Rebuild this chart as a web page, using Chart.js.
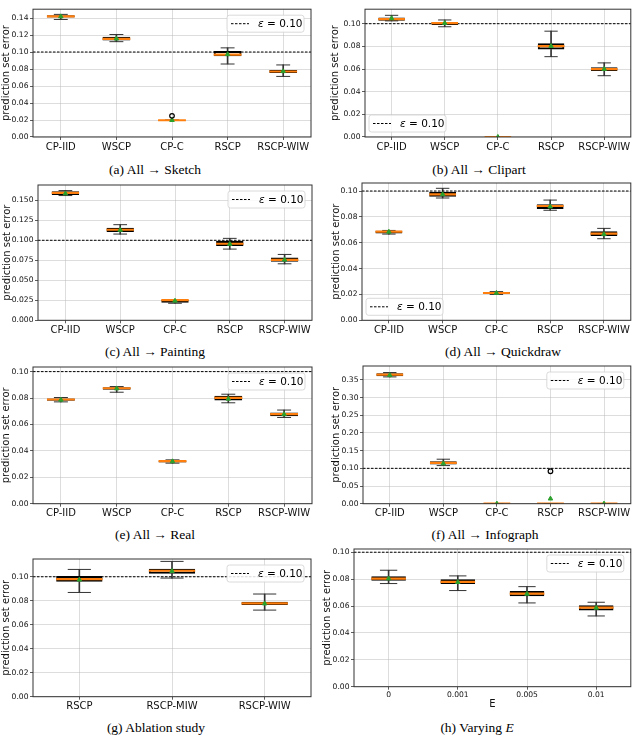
<!DOCTYPE html>
<html>
<head>
<meta charset="utf-8">
<script src="https://cdn.jsdelivr.net/npm/chart.js@4.4.1/dist/chart.umd.min.js"></script>
<style>
  body { margin: 0; background: #fff; width: 640px; height: 735px; position: relative; overflow: hidden; }
  canvas { position: absolute; left: 0; top: 0; }
  .cap { position: absolute; transform: translate(-50%, -50%); white-space: nowrap;
         font-family: "Liberation Serif", "DejaVu Serif", serif; font-size: 13.5px; color: #000; }
</style>
</head>
<body>
<div class="cap" style="left:155px;top:170px">(a) All → Sketch</div>
<div class="cap" style="left:479px;top:170px">(b) All → Clipart</div>
<div class="cap" style="left:155px;top:352px">(c) All → Painting</div>
<div class="cap" style="left:503px;top:352px">(d) All → Quickdraw</div>
<div class="cap" style="left:155px;top:535px">(e) All → Real</div>
<div class="cap" style="left:485px;top:535px">(f) All → Infograph</div>
<div class="cap" style="left:156px;top:728px">(g) Ablation study</div>
<div class="cap" style="left:477px;top:728px">(h) Varying <i>E</i></div>
<script>
// Box-plot grid: prediction set error per method, eight panels.
// Boxes/whiskers are floating bars, medians/caps are 'line' point markers.

const EPSILON = 0.10;

const methods = ['CP-IID', 'WSCP', 'CP-C', 'RSCP', 'RSCP-WIW'];
const ablationMethods = ['RSCP', 'RSCP-MIW', 'RSCP-WIW'];
const eValues = ['0', '0.001', '0.005', '0.01'];

// (a) All -> Sketch
const sketchLo   = [0.1383, 0.1122, 0.0195, 0.0859, 0.0713];
const sketchQ1   = [0.1405, 0.1137, 0.0195, 0.0950, 0.0753];
const sketchMed  = [0.1420, 0.1155, 0.0197, 0.0969, 0.0771];
const sketchQ3   = [0.1433, 0.1180, 0.0200, 0.1012, 0.0789];
const sketchHi   = [0.1443, 0.1206, 0.0200, 0.1049, 0.0848];
const sketchMean = [0.1418, 0.1157, 0.0198, 0.0973, 0.0773];
const sketchOut  = [[], [], [0.0249], [], []];

// (b) All -> Clipart
const clipartLo   = [0.1025, 0.0973, 0, 0.0709, 0.0541];
const clipartQ1   = [0.1027, 0.0989, 0, 0.0772, 0.0582];
const clipartMed  = [0.1041, 0.1005, 0, 0.0802, 0.0599];
const clipartQ3   = [0.1055, 0.1016, 0, 0.0827, 0.0615];
const clipartHi   = [0.1074, 0.1033, 0, 0.0934, 0.0654];
const clipartMean = [0.1047, 0.1005, 0, 0.0802, 0.0599];
const clipartOut  = [[], [], [], [], []];

// (c) All -> Painting
const paintingLo   = [0.1559, 0.1078, 0.0213, 0.0890, 0.0706];
const paintingQ1   = [0.1567, 0.1103, 0.0220, 0.0928, 0.0731];
const paintingMed  = [0.1592, 0.1132, 0.0251, 0.0957, 0.0756];
const paintingQ3   = [0.1613, 0.1158, 0.0255, 0.0990, 0.0786];
const paintingHi   = [0.1621, 0.1195, 0.0255, 0.1024, 0.0823];
const paintingMean = [0.1584, 0.1128, 0.0243, 0.0953, 0.0756];
const paintingOut  = [[], [], [], [], []];

// (d) All -> Quickdraw
const quickLo   = [0.0667, 0.0946, 0.0200, 0.0851, 0.0631];
const quickQ1   = [0.0672, 0.0956, 0.0205, 0.0861, 0.0652];
const quickMed  = [0.0686, 0.0974, 0.0211, 0.0884, 0.0670];
const quickQ3   = [0.0692, 0.0992, 0.0218, 0.0897, 0.0688];
const quickHi   = [0.0695, 0.1021, 0.0222, 0.0930, 0.0711];
const quickMean = [0.0684, 0.0974, 0.0211, 0.0879, 0.0665];
const quickOut  = [[], [], [], [], []];

// (e) All -> Real
const realLo   = [0.0771, 0.0844, 0.0307, 0.0764, 0.0653];
const realQ1   = [0.0779, 0.0862, 0.0312, 0.0781, 0.0663];
const realMed  = [0.0789, 0.0874, 0.0322, 0.0801, 0.0678];
const realQ3   = [0.0796, 0.0882, 0.0327, 0.0817, 0.0691];
const realHi   = [0.0804, 0.0887, 0.0332, 0.0829, 0.0709];
const realMean = [0.0786, 0.0872, 0.0320, 0.0794, 0.0676];
const realOut  = [[], [], [], [], []];

// (f) All -> Infograph
const infoLo   = [0.3586, 0.1078, 0, 0, 0];
const infoQ1   = [0.3605, 0.1107, 0, 0, 0];
const infoMed  = [0.3652, 0.1154, 0, 0, 0];
const infoQ3   = [0.3690, 0.1201, 0, 0, 0];
const infoHi   = [0.3709, 0.1258, 0, 0, 0];
const infoMean = [0.3633, 0.1135, 0, 0.0142, 0];
const infoOut  = [[], [], [], [0.0918], []];

// (g) Ablation study
const ablLo   = [0.0869, 0.0989, 0.0722];
const ablQ1   = [0.0958, 0.1025, 0.0764];
const ablMed  = [0.0981, 0.1050, 0.0778];
const ablQ3   = [0.1006, 0.1067, 0.0792];
const ablHi   = [0.1061, 0.1128, 0.0856];
const ablMean = [0.0975, 0.1047, 0.0776];
const ablOut  = [[], [], []];

// (h) Varying E
const varLo   = [0.0767, 0.0715, 0.0623, 0.0526];
const varQ1   = [0.0787, 0.0764, 0.0672, 0.0566];
const varMed  = [0.0804, 0.0779, 0.0692, 0.0588];
const varQ3   = [0.0821, 0.0799, 0.0712, 0.0605];
const varHi   = [0.0866, 0.0824, 0.0744, 0.0628];
const varMean = [0.0804, 0.0777, 0.0690, 0.0586];
const varOut  = [[], [], [], []];

Chart.defaults.font.family = "'DejaVu Sans', sans-serif";
Chart.defaults.color = '#111';

// Frame round the plot area plus the "ε = 0.10" legend box.
const frameLegend = {
    id: 'frameLegend',
    afterDraw(chart, args, opts) {
        const { ctx, chartArea: a } = chart;
        ctx.save();
        ctx.strokeStyle = '#333';
        ctx.lineWidth = 1;
        ctx.strokeRect(a.left, a.top, a.width, a.height);

        const w = 77, h = 17;
        const x = opts.corner === 'sw' ? a.left + 4 : a.right - w - 7;
        const y = opts.corner === 'sw' ? a.bottom - h - 5 : a.top + 6;
        ctx.beginPath();
        ctx.roundRect(x, y, w, h, 2.5);
        ctx.fillStyle = 'rgba(255,255,255,0.85)';
        ctx.fill();
        ctx.strokeStyle = '#d0d0d0';
        ctx.lineWidth = 0.8;
        ctx.stroke();

        const cy = y + h / 2;
        ctx.beginPath();
        ctx.setLineDash([2.5, 1.5]);
        ctx.strokeStyle = '#000';
        ctx.lineWidth = 1;
        ctx.moveTo(x + 4, cy);
        ctx.lineTo(x + 22, cy);
        ctx.stroke();
        ctx.setLineDash([]);

        ctx.fillStyle = '#000';
        ctx.textBaseline = 'middle';
        ctx.font = "italic 10.5px 'DejaVu Sans'";
        ctx.fillText('ε', x + 31, cy + 0.5);
        const ew = ctx.measureText('ε').width;
        ctx.font = "10.5px 'DejaVu Sans'";
        ctx.fillText(' = 0.10', x + 31 + ew, cy + 0.5);
        ctx.restore();
    },
};

function boxHalf(c) {
    const a = c.chart.chartArea;
    if (!a) return 7;
    return (a.right - a.left) / c.chart.data.labels.length * 0.25;
}

function boxDatasets(labels, lo, q1, med, q3, hi, mean, out) {
    const outPts = [];
    out.forEach((vals, i) => vals.forEach(v => outPts.push({ x: labels[i], y: v })));
    const whisk = { type: 'bar', backgroundColor: '#333', borderWidth: 0, barThickness: 1, grouped: false, order: 7 };
    const pts = { type: 'line', showLine: false, pointBorderWidth: 1 };
    return [
        { ...whisk, data: labels.map((_, i) => [lo[i], q1[i]]) },
        { ...whisk, data: labels.map((_, i) => [q3[i], hi[i]]) },
        { ...pts, order: 6, data: lo, pointStyle: 'line', pointBorderColor: '#333',
          pointRadius: c => boxHalf(c) * 0.5 },
        { ...pts, order: 6, data: hi, pointStyle: 'line', pointBorderColor: '#333',
          pointRadius: c => boxHalf(c) * 0.5 },
        { type: 'bar', order: 5, data: labels.map((_, i) => [q1[i], q3[i]]),
          backgroundColor: 'rgba(0,0,0,0)', borderColor: '#000', borderWidth: 2,
          borderSkipped: false, barPercentage: 0.5, categoryPercentage: 1, grouped: false },
        { type: 'line', order: 4, xAxisID: 'xe', data: [{ x: 0, y: EPSILON }, { x: 1, y: EPSILON }],
          borderColor: '#000', borderWidth: 1, borderDash: [2.5, 1.5], pointRadius: 0 },
        { ...pts, order: 3, data: med, pointStyle: 'line', pointBorderColor: '#ff7f0e',
          pointBorderWidth: 2.2, pointRadius: c => boxHalf(c) },
        { ...pts, order: 2, data: mean, pointStyle: 'triangle', pointRadius: 2.6,
          pointBackgroundColor: '#2ca02c', pointBorderColor: '#2ca02c' },
        { ...pts, order: 1, data: outPts, pointStyle: 'circle', pointRadius: 2.3,
          pointBackgroundColor: 'rgba(0,0,0,0)', pointBorderColor: '#000', pointBorderWidth: 1.2 },
    ];
}

// p: plot-area box in page px, tx: centre of the y title
function panel(p, labels, stats, yOpts) {
    const canvas = document.createElement('canvas');
    canvas.width = 640;
    canvas.height = 735;
    document.body.appendChild(canvas);
    const padLeft = p.tx - 5.7;
    const xH = p.xTitle ? 24 : 20;
    new Chart(canvas, {
        type: 'bar',
        data: { labels, datasets: boxDatasets(labels, ...stats) },
        plugins: [frameLegend],
        options: {
            responsive: false,
            animation: false,
            events: [],
            layout: { padding: { left: padLeft, top: p.T, right: 640 - p.R, bottom: 735 - p.B - xH } },
            plugins: { legend: { display: false }, tooltip: { enabled: false }, frameLegend: { corner: p.corner } },
            scales: {
                x: {
                    offset: true,
                    grid: { offset: false, color: 'rgba(176,176,176,0.55)', lineWidth: 0.8,
                            tickLength: 3, tickColor: '#333', drawTicks: true },
                    border: { display: false },
                    ticks: { font: { size: p.xFont || 10 }, color: '#111', maxRotation: 0, autoSkip: false, padding: 1 },
                    title: p.xTitle ? { display: true, text: p.xTitle, font: { size: 10 }, color: '#111', padding: 0 }
                                    : { display: false },
                    afterFit: s => { s.height = xH; s.paddingLeft = 0; s.paddingRight = 0; },
                },
                xe: { type: 'linear', display: false, offset: false, min: 0, max: 1,
                      grid: { offset: false } },
                y: {
                    min: 0,
                    max: yOpts.max,
                    grid: { color: 'rgba(176,176,176,0.55)', lineWidth: 0.8,
                            tickLength: 3, tickColor: '#333', drawTicks: true },
                    border: { display: false },
                    ticks: { stepSize: yOpts.step, includeBounds: false, font: { size: 7.6 }, color: '#111',
                             padding: 1.5, callback: v => v.toFixed(yOpts.dec) },
                    title: { display: true, text: 'prediction set error', font: { size: 10 }, color: '#111', padding: 0 },
                    afterFit: s => { s.width = p.L - padLeft; s.paddingTop = 0; s.paddingBottom = 0; },
                },
            },
        },
    });
}

panel({ L: 33, T: 0, R: 311, B: 137, tx: 6, corner: 'ne' }, methods,
      [sketchLo, sketchQ1, sketchMed, sketchQ3, sketchHi, sketchMean, sketchOut],
      { max: 0.1504, step: 0.02, dec: 2 });
panel({ L: 365, T: 0, R: 638, B: 137, tx: 335.5, corner: 'sw' }, methods,
      [clipartLo, clipartQ1, clipartMed, clipartQ3, clipartHi, clipartMean, clipartOut],
      { max: 0.1128, step: 0.02, dec: 2 });
panel({ L: 38, T: 185, R: 312, B: 320.3, tx: 7, corner: 'ne' }, methods,
      [paintingLo, paintingQ1, paintingMed, paintingQ3, paintingHi, paintingMean, paintingOut],
      { max: 0.1691, step: 0.025, dec: 3 });
panel({ L: 362, T: 183, R: 639, B: 320.3, tx: 336, corner: 'sw' }, methods,
      [quickLo, quickQ1, quickMed, quickQ3, quickHi, quickMean, quickOut],
      { max: 0.1062, step: 0.02, dec: 2 });
panel({ L: 33, T: 367, R: 312, B: 503.7, tx: 6.3, corner: 'ne' }, methods,
      [realLo, realQ1, realMed, realQ3, realHi, realMean, realOut],
      { max: 0.1035, step: 0.02, dec: 2 });
panel({ L: 363, T: 366, R: 639, B: 503.7, tx: 336, corner: 'ne' }, methods,
      [infoLo, infoQ1, infoMed, infoQ3, infoHi, infoMean, infoOut],
      { max: 0.3894, step: 0.05, dec: 2 });
panel({ L: 33, T: 559, R: 311, B: 696.7, tx: 6.3, corner: 'ne' }, ablationMethods,
      [ablLo, ablQ1, ablMed, ablQ3, ablHi, ablMean, ablOut],
      { max: 0.1148, step: 0.02, dec: 2 });
panel({ L: 354, T: 549, R: 632, B: 686.7, tx: 327, corner: 'ne', xTitle: 'E', xFont: 7.6 }, eValues,
      [varLo, varQ1, varMed, varQ3, varHi, varMean, varOut],
      { max: 0.1024, step: 0.02, dec: 2 });
</script>
</body>
</html>
